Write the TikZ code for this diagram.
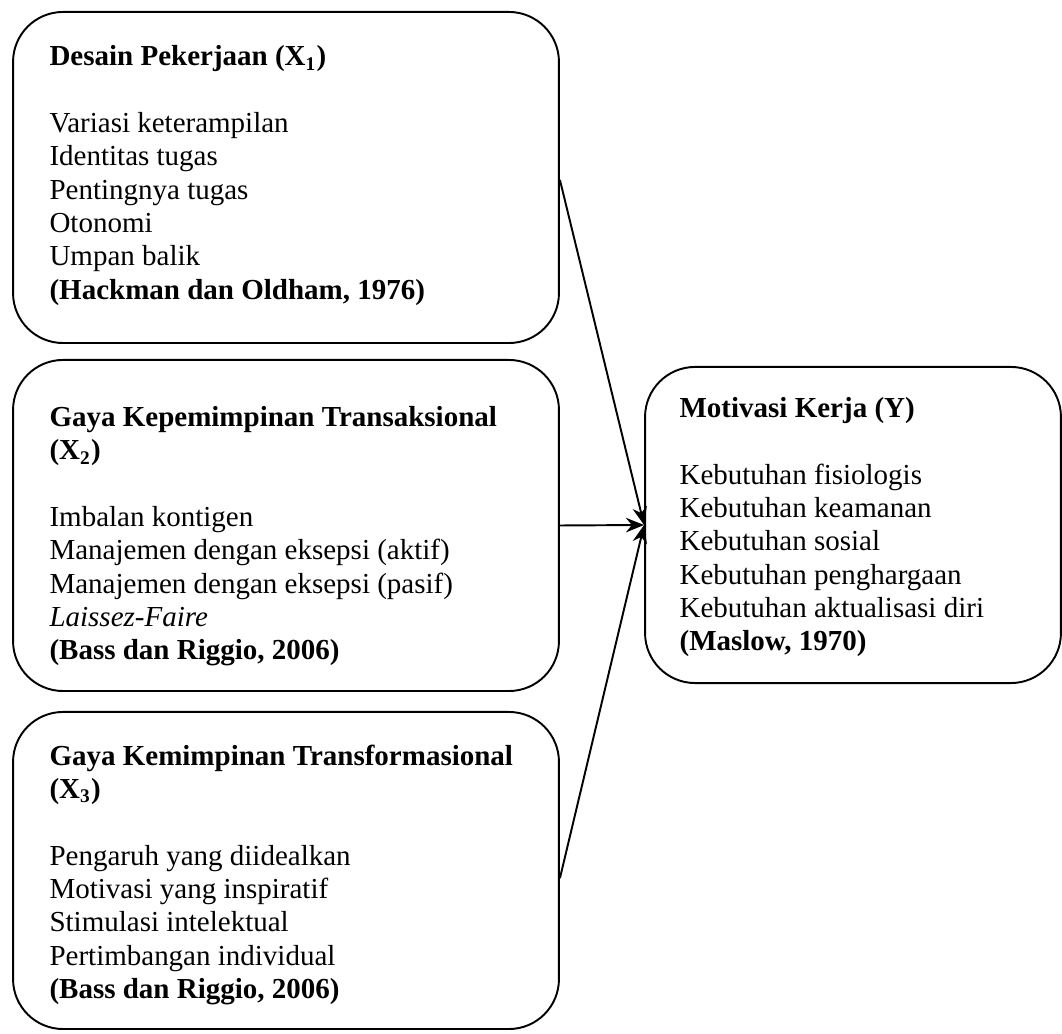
\documentclass[tikz,border=0pt]{standalone}
\usepackage{fontspec}
\setmainfont{Liberation Serif}
\usetikzlibrary{arrows.meta}
\usetikzlibrary{positioning}

\tikzset{
  kotak/.style={draw,rectangle,rounded corners=20.7pt,line width=0.8pt,inner sep=0pt},
  isi/.style={anchor=north west,align=left,inner sep=0pt,font=\fontsize{12pt}{13.8pt}\selectfont},
  panah/.style={draw,line width=0.8pt,-{Stealth[length=7.5pt,width=6pt]}}
}

\begin{document}
\begin{tikzpicture}[x=0.4138pt,y=-0.4138pt]

  \useasboundingbox (0,0) rectangle (1062,1034);

  \node [kotak,minimum width=225.9pt,minimum height=137pt] (desain) at (286,177.5) {};
  \node [isi,below right=14.1pt and 15.3pt of desain.north west] (desaintxt) {%
    \textbf{Desain Pekerjaan (X\textsubscript{1})}\\[13.8pt]
    Variasi keterampilan\\
    Identitas tugas\\
    Pentingnya tugas\\
    Otonomi\\
    Umpan balik\\
    \textbf{(Hackman dan Oldham, 1976)}};

  \node [kotak,minimum width=225.9pt,minimum height=137pt] (transaksional) at (286,525.5) {};
  \node [isi,below right=19.4pt and 15.3pt of transaksional.north west] (transaksionaltxt) {%
    \textbf{Gaya Kepemimpinan Transaksional}\\
    \textbf{(X\textsubscript{2})}\\[13.8pt]
    Imbalan kontigen\\
    Manajemen dengan eksepsi (aktif)\\
    Manajemen dengan eksepsi (pasif)\\
    \textit{Laissez-Faire}\\
    \textbf{(Bass dan Riggio, 2006)}};

  \node [kotak,minimum width=225.9pt,minimum height=131.2pt] (transformasional) at (286,870.5) {};
  \node [isi,below right=13.7pt and 15.3pt of transformasional.north west] (transformasionaltxt) {%
    \textbf{Gaya Kemimpinan Transformasional}\\
    \textbf{(X\textsubscript{3})}\\[13.8pt]
    Pengaruh yang diidealkan\\
    Motivasi yang inspiratif\\
    Stimulasi intelektual\\
    Pertimbangan individual\\
    \textbf{(Bass dan Riggio, 2006)}};

  \node [kotak,minimum width=172.1pt,minimum height=130.8pt] (motivasi) at (853,525) {};
  \node [isi,below right=12.8pt and 14.5pt of motivasi.north west] (motivasitxt) {%
    \textbf{Motivasi Kerja (Y)}\\[13.8pt]
    Kebutuhan fisiologis\\
    Kebutuhan keamanan\\
    Kebutuhan sosial\\
    Kebutuhan penghargaan\\
    Kebutuhan aktualisasi diri\\
    \textbf{(Maslow, 1970)}};

  \path ([yshift=-1pt]desain.east) edge [panah] (motivasi.west)
    (transaksional.east) edge [panah] (motivasi.west)
    ([yshift=-3.2pt]transformasional.east) edge [panah] (motivasi.west);

\end{tikzpicture}
\end{document}
